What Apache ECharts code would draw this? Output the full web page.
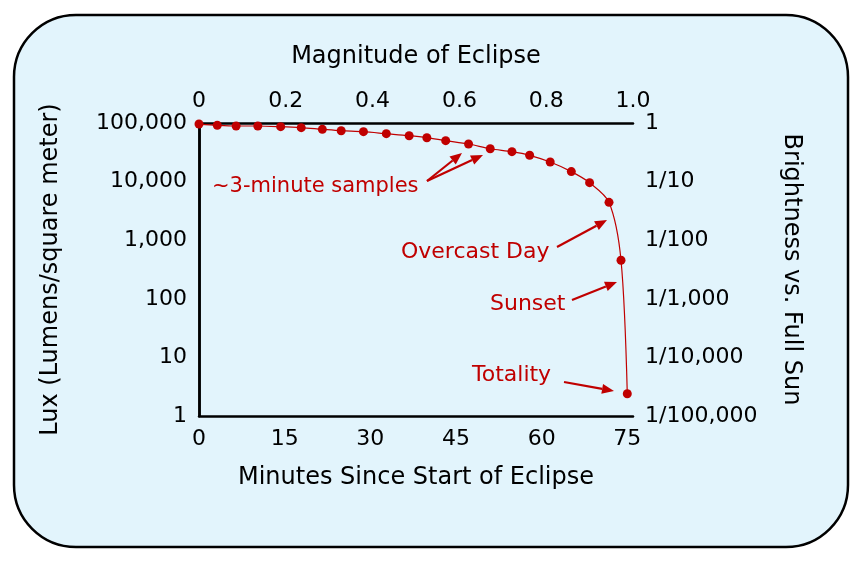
<!DOCTYPE html>
<html>
<head>
<meta charset="utf-8">
<script src="https://cdn.jsdelivr.net/npm/echarts@6/dist/echarts.min.js"></script>
<style>
  html, body { margin: 0; padding: 0; background: #fff; }
  #chart { width: 860px; height: 564px; }
</style>
</head>
<body>
<div id="chart"></div>
<script>
// minutes since start of eclipse (~3-minute samples)
const minutes = [0, 3.2, 6.5, 10.3, 14.3, 17.9, 21.6, 24.9, 28.8, 32.8, 36.8, 39.9,
                 43.2, 47.2, 51.0, 54.8, 57.9, 61.5, 65.2, 68.4, 71.8, 73.9, 75.0];
// measured lux
const lux = [96000, 91400, 88900, 88900, 86500, 83200, 78000, 73900, 71100, 65700, 60700, 56100,
             49900, 43800, 36400, 32400, 28100, 21600, 14800, 9580, 4430, 454, 2.4];
const minuteTicks = [0, 15, 30, 45, 60, 75];
const magnitudeTicks = ['0', '0.2', '0.4', '0.6', '0.8', '1.0'];

const red = '#c00000';
const font = "'DejaVu Sans', sans-serif";

const chart = echarts.init(document.getElementById('chart'));

// annotation arrow: line plus a filled head
function arrow(x1, y1, x2, y2) {
    const a = Math.atan2(y2 - y1, x2 - x1);
    const len = 12, w = 5;
    const bx = x2 - len * Math.cos(a), by = y2 - len * Math.sin(a);
    const px = -Math.sin(a) * w, py = Math.cos(a) * w;
    return [
        { type: 'line', z: 50, shape: { x1: x1, y1: y1, x2: bx, y2: by },
          style: { stroke: red, lineWidth: 2.2 } },
        { type: 'polygon', z: 50, shape: { points: [[x2, y2], [bx + px, by + py], [bx - px, by - py]] },
          style: { fill: red } }
    ];
}

function note(text, x, y, size) {
    return { type: 'text', z: 50, x: x, y: y,
             style: { text: text, fill: red, font: (size || 22) + 'px ' + font, verticalAlign: 'middle' } };
}

const graphics = [
    { type: 'rect', z: -10, shape: { x: 14, y: 15, width: 834, height: 532, r: 62 },
      style: { fill: '#e2f4fc', stroke: '#000', lineWidth: 2.5 } },
    note('~3-minute samples', 212, 187, 21),
    ...arrow(427, 181, 462, 153),
    ...arrow(427, 181, 483, 155),
    note('Overcast Day', 401, 252),
    ...arrow(557, 247, 607, 220),
    note('Sunset', 490, 304),
    ...arrow(572, 300, 617, 282),
    note('Totality', 472, 375),
    ...arrow(564, 382, 614, 391)
];

const lineStyle = { color: '#000', width: 2.5 };
const labelBase = { color: '#000', fontSize: 22, fontFamily: font };
const nameBase = { color: '#000', fontSize: 24, fontFamily: font };

const option = {
    animation: false,
    graphic: graphics,
    grid: { left: 199, right: 227, top: 123, bottom: 148 },
    xAxis: [{
        type: 'value', position: 'bottom', min: 0, max: 76,
        axisLine: { show: true, lineStyle: lineStyle }, axisTick: { show: false },
        splitLine: { show: false },
        axisLabel: Object.assign({ margin: 12, customValues: minuteTicks }, labelBase),
        name: 'Minutes Since Start of Eclipse', nameLocation: 'middle', nameGap: 50,
        nameTextStyle: nameBase
    }, {
        type: 'value', position: 'top', min: 0, max: 1, interval: 0.2,
        axisLine: { show: true, lineStyle: lineStyle }, axisTick: { show: false },
        splitLine: { show: false },
        axisLabel: Object.assign({ margin: 11,
            formatter: v => magnitudeTicks[Math.round(v * 5)] }, labelBase),
        name: 'Magnitude of Eclipse', nameLocation: 'middle', nameGap: 54,
        nameTextStyle: nameBase
    }],
    yAxis: [{
        type: 'log', logBase: 10, min: 1, max: 100000, position: 'left',
        axisLine: { show: true, lineStyle: lineStyle }, axisTick: { show: false },
        splitLine: { show: false }, minorSplitLine: { show: false },
        axisLabel: Object.assign({ margin: 12,
            formatter: v => Math.round(v).toLocaleString('en-US') }, labelBase),
        name: 'Lux (Lumens/square meter)', nameLocation: 'middle', nameGap: 136,
        nameTextStyle: nameBase
    }, {
        type: 'log', logBase: 10, min: 1, max: 100000, position: 'right',
        axisLine: { show: true, lineStyle: lineStyle }, axisTick: { show: false },
        splitLine: { show: false },
        axisLabel: Object.assign({ margin: 12,
            formatter: v => v >= 99999 ? '1' : '1/' + Math.round(100000 / v).toLocaleString('en-US') }, labelBase),
        name: 'Brightness vs. Full Sun', nameLocation: 'middle', nameGap: 146, nameRotate: -90,
        nameTextStyle: nameBase
    }],
    series: [{
        type: 'line',
        xAxisIndex: 0, yAxisIndex: 0,
        data: minutes.map((m, i) => [m, lux[i]]),
        smooth: 0.3,
        symbol: 'circle', symbolSize: 9,
        itemStyle: { color: red },
        lineStyle: { color: red, width: 1.2 }
    }]
};

chart.setOption(option);
</script>
</body>
</html>
